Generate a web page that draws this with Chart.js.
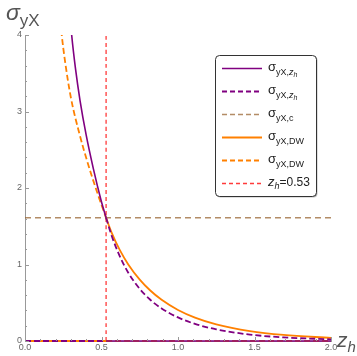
<!DOCTYPE html>
<html><head><meta charset="utf-8">
<script src="https://cdn.jsdelivr.net/npm/chart.js@4.4.1/dist/chart.umd.min.js"></script>
<style>html,body{margin:0;padding:0;background:#fff}</style></head>
<body><canvas id="c" width="357" height="356"></canvas>
<script>
// ---- data ----
const zh = 0.53;
const sigmaC = 1.61;
const purpleSolidZ = [0.29, 0.305, 0.33, 0.36, 0.40, 0.447, 0.497, 0.53];
const purpleSolidV = [4.35, 4.00, 3.56, 3.14, 2.69, 2.25, 1.84, 1.61];
const orangeDashZ = [0.225, 0.24, 0.26, 0.30, 0.357, 0.414, 0.479, 0.53];
const orangeDashV = [4.30, 4.00, 3.68, 3.18, 2.70, 2.30, 1.90, 1.61];
const purpleDashZ = [0.53, 0.567, 0.62, 0.675, 0.75, 0.817, 0.893, 1.0, 1.111, 1.25, 1.47, 1.69, 2.0];
const purpleDashV = [1.61, 1.373, 1.105, 0.892, 0.681, 0.542, 0.425, 0.308, 0.224, 0.152, 0.084, 0.047, 0.022];
const orangeSolidZ = [0.53, 0.567, 0.62, 0.675, 0.75, 0.817, 0.893, 1.0, 1.111, 1.25, 1.47, 1.69, 2.0];
const orangeSolidV = [1.61, 1.414, 1.187, 1.001, 0.802, 0.663, 0.538, 0.405, 0.305, 0.217, 0.129, 0.079, 0.041];
const zeroLeftZ = [0, 0.53];
const zeroRightZ = [0.53, 2.0];
const zeroV = [0, 0];
const xTicks = [0, 0.5, 1.0, 1.5, 2.0];
const yTicks = [0, 1, 2, 3, 4];

const PURPLE = '#800080', ORANGE = '#ff8000', BROWN = 'rgba(153,102,51,0.75)', RED = 'rgba(255,25,25,0.85)';
const pts = (zs, vs) => zs.map((z, i) => ({x: z, y: vs[i]}));
const gap = a => a.concat([{x: zh, y: null}]);

const datasets = [
  {label: 'purpleSolid', data: gap(pts(purpleSolidZ, purpleSolidV)).concat(pts(zeroRightZ, zeroV)), borderColor: PURPLE, borderWidth: 1.6},
  {label: 'purpleDash', data: gap(pts(zeroLeftZ, zeroV)).concat(pts(purpleDashZ, purpleDashV)), borderColor: PURPLE, borderWidth: 1.8, borderDash: [6, 3]},
  {label: 'brownDash', data: pts([0, 2], [sigmaC, sigmaC]), borderColor: BROWN, borderWidth: 1.5, borderDash: [6, 4], tension: 0},
  {label: 'orangeSolid', data: gap(pts(zeroLeftZ, zeroV)).concat(pts(orangeSolidZ, orangeSolidV)), borderColor: ORANGE, borderWidth: 1.8},
  {label: 'orangeDash', data: gap(pts(orangeDashZ, orangeDashV)).concat(pts(zeroRightZ, zeroV)), borderColor: ORANGE, borderWidth: 1.8, borderDash: [6, 3]},
  {label: 'redDash', data: pts([zh, zh], [0, 4]), borderColor: RED, borderWidth: 1.3, borderDash: [4, 3], tension: 0}
].map(d => Object.assign({type: 'line', showLine: true, pointRadius: 0, fill: false, cubicInterpolationMode: 'monotone', spanGaps: false, clip: {left: 0, top: 0, right: 2, bottom: 4}}, d));

const GRAY = '#999', LABEL = '#666';

function drawParts(ctx, x, y, parts) {
  for (const p of parts) {
    ctx.font = (p.it ? 'italic ' : '') + p.s + 'px "Liberation Sans", Arial, sans-serif';
    ctx.fillText(p.t, x, y + (p.dy || 0));
    x += ctx.measureText(p.t).width + (p.kern || 0);
  }
}

const deco = {
  id: 'deco',
  afterDraw(chart) {
    const ctx = chart.ctx, xs = chart.scales.x, ys = chart.scales.y;
    ctx.save();
    // inward ticks
    ctx.strokeStyle = GRAY; ctx.lineWidth = 1;
    ctx.beginPath();
    for (let i = 0; i <= 20; i++) {
      const v = i * 0.1, px = Math.round(xs.getPixelForValue(v)) + 0.5;
      const len = (i % 5 === 0) ? 4 : 2;
      ctx.moveTo(px, ys.bottom); ctx.lineTo(px, ys.bottom - len);
    }
    for (let i = 0; i <= 20; i++) {
      const v = i * 0.2, py = Math.round(ys.getPixelForValue(v)) + 0.5;
      const len = (i % 5 === 0) ? 4 : 2;
      ctx.moveTo(xs.left, py); ctx.lineTo(xs.left + len, py);
    }
    ctx.stroke();
    // axis titles
    ctx.fillStyle = '#555'; ctx.textBaseline = 'alphabetic'; ctx.textAlign = 'left';
    drawParts(ctx, 6, 20, [{t: 'σ', s: 23, it: true}, {t: 'yX', s: 17, dy: 6}]);
    drawParts(ctx, 337, 347, [{t: 'z', s: 21, it: true}, {t: 'h', s: 15, it: true, dy: 5}]);
    // legend
    const bx = 215, by = 55, bw = 101, bh = 141, r = 4;
    const rr = (x, y, w, h) => { ctx.beginPath(); ctx.roundRect(x, y, w, h, r); };
    ctx.fillStyle = 'rgba(0,0,0,0.25)'; rr(bx + 1.5, by + 1.5, bw, bh); ctx.fill();
    ctx.fillStyle = '#fff'; rr(bx, by, bw, bh); ctx.fill();
    ctx.strokeStyle = '#333'; ctx.lineWidth = 1; rr(bx + 0.5, by + 0.5, bw, bh); ctx.stroke();
    const rows = [
      {c: PURPLE, d: [], w: 1.6, parts: 'zh'},
      {c: PURPLE, d: [5, 3], w: 1.8, parts: 'zh'},
      {c: BROWN, d: [5, 3], w: 1.5, parts: 'c'},
      {c: ORANGE, d: [], w: 1.8, parts: 'DW'},
      {c: ORANGE, d: [5, 3], w: 1.8, parts: 'DW'},
      {c: RED, d: [4, 3], w: 1.3, parts: 'z'}
    ];
    const ysRow = [68, 91, 114, 137, 160, 183];
    rows.forEach((row, i) => {
      const y = ysRow[i];
      ctx.strokeStyle = row.c; ctx.lineWidth = row.w; ctx.setLineDash(row.d);
      ctx.beginPath(); ctx.moveTo(222, y + 0.5); ctx.lineTo(262, y + 0.5); ctx.stroke();
      ctx.setLineDash([]);
      ctx.fillStyle = '#222';
      const bl = y + 3;
      let parts;
      if (row.parts === 'zh') parts = [{t: 'σ', s: 13}, {t: 'yX,', s: 9, dy: 4}, {t: 'z', s: 9, it: true, dy: 4}, {t: 'h', s: 7, it: true, dy: 6}];
      else if (row.parts === 'c') parts = [{t: 'σ', s: 13}, {t: 'yX,c', s: 9, dy: 4}];
      else if (row.parts === 'DW') parts = [{t: 'σ', s: 13}, {t: 'yX,DW', s: 9, dy: 4}];
      else parts = [{t: 'z', s: 13, it: true}, {t: 'h', s: 9, it: true, dy: 3}, {t: '=0.53', s: 12}];
      drawParts(ctx, 268, bl, parts);
    });
    ctx.restore();
  }
};

new Chart(document.getElementById('c'), {
  type: 'line',
  data: {datasets},
  options: {
    responsive: false, animation: false, devicePixelRatio: 1,
    layout: {padding: {top: 35, right: 26, left: 0, bottom: 0}},
    plugins: {legend: {display: false}, tooltip: {enabled: false}},
    scales: {
      x: {type: 'linear', min: 0, max: 2,
        afterBuildTicks: s => { s.ticks = xTicks.map(v => ({value: v})); },
        ticks: {callback: v => Number(v).toFixed(1), font: {size: 9, family: '"Liberation Sans", Arial, sans-serif'}, color: LABEL, padding: 1, maxRotation: 0, autoSkip: false},
        grid: {drawOnChartArea: false, drawTicks: false},
        border: {display: true, color: GRAY, width: 1},
        afterFit: s => { s.height = 15; }},
      y: {type: 'linear', min: 0, max: 4,
        afterBuildTicks: s => { s.ticks = yTicks.map(v => ({value: v})); },
        ticks: {font: {size: 9, family: '"Liberation Sans", Arial, sans-serif'}, color: LABEL, padding: 3, autoSkip: false},
        grid: {drawOnChartArea: false, drawTicks: false},
        border: {display: true, color: GRAY, width: 1},
        afterFit: s => { s.width = 25; }}
    }
  },
  plugins: [deco]
});
</script>
</body></html>
